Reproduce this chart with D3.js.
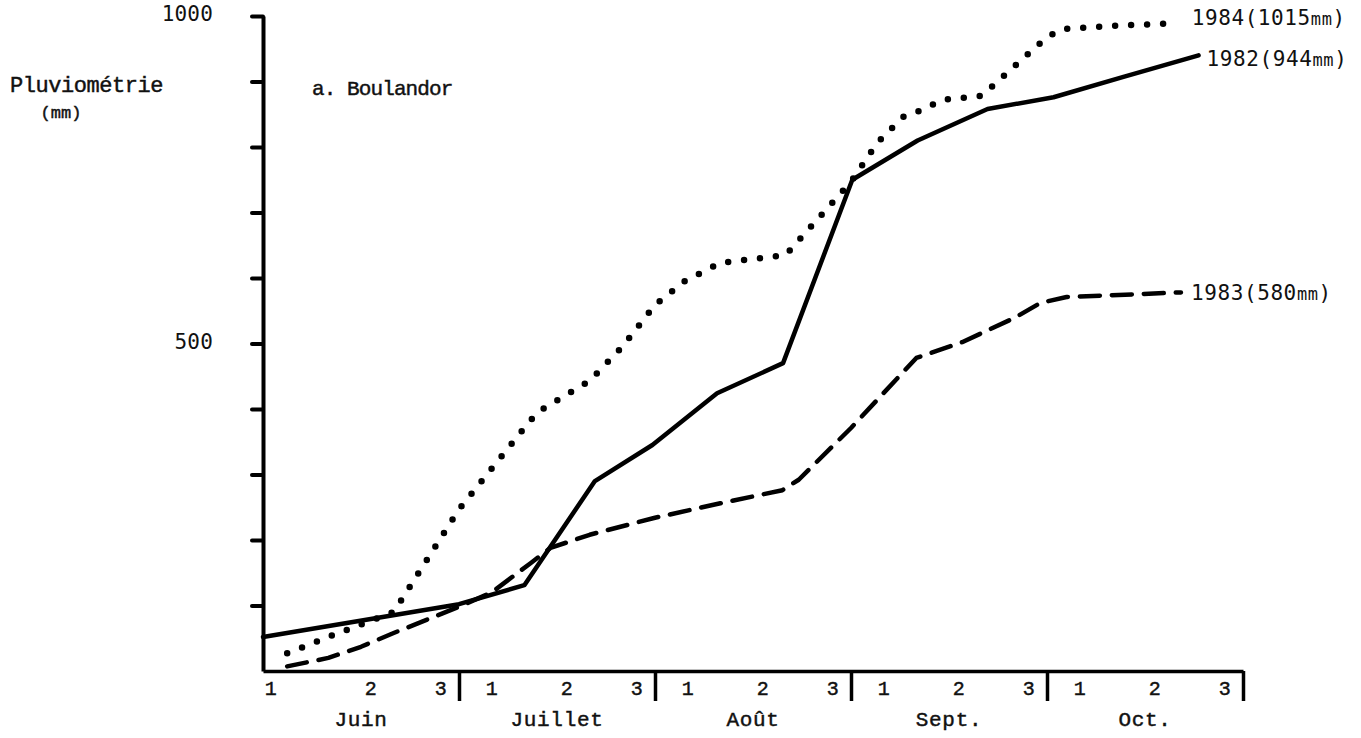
<!DOCTYPE html>
<meta charset="utf-8">
<style>
  body { margin: 0; background: #fff; }
  svg { display: block; }
  .serif { font-family: "Liberation Mono", "Courier New", monospace; fill: #111; stroke: #111; stroke-width: 0.45px; }
  .sans { font-family: "DejaVu Sans Mono", monospace; fill: #111; }
  .axis path, .axis line { stroke: #000; }
  .series { fill: none; stroke: #000; }
</style>
<body>
<svg width="1361" height="738"></svg>
<script src="https://cdn.jsdelivr.net/npm/d3@7"></script>
<script>
// months and decades on the x axis (x unit = one decade, 3 per month)
const months = ["Juin", "Juillet", "Août", "Sept.", "Oct."];
const decades = ["1", "2", "3"];

// y axis ticks (mm), only two of them labelled
const yTicks = [100, 200, 300, 400, 500, 600, 700, 800, 900, 1000];
const yLabelled = [500, 1000];

// cumulative rainfall (position in decades, mm)
const pos1982 = [0, 3, 4, 5.08, 5.96, 6.95, 7.96, 9.02, 10.02, 11.09, 12.1, 13.17, 14.32];
const rain1982 = [52, 102, 131, 290, 345, 424, 470, 750, 810, 858, 876, 907, 940];

const pos1983 = [0.37, 1, 1.5, 2, 3, 3.5, 4.1, 4.4, 5, 6, 7, 7.95, 8.2, 9, 10, 10.7, 11.5, 11.9, 12.3, 14.05];
const rain1983 = [7, 20, 37, 58, 98, 120, 165, 188, 208, 234, 256, 276, 292, 371, 478, 502, 539, 562, 571, 578];

const pos1984 = [0.37, 1, 2, 3, 4, 4.2, 5, 5.5, 6, 6.45, 7, 8, 9, 9.4, 9.8, 10, 10.4, 11, 12, 12.25, 13, 14];
const rain1984 = [27, 52, 90, 247, 371, 395, 443, 495, 559, 595, 623, 635, 747, 806, 846, 853, 872, 878, 968, 980, 985, 989];

const seriesNames = ["1984", "1982", "1983"];
const seriesTotals = ["1015", "944", "580"];

const svg = d3.select("svg");

const x = d3.scaleLinear().domain([0, 15]).range([263, 1243]);
const y = d3.scaleLinear().domain([0, 1000]).range([671, 16]);

// y axis
const yAxis = svg.append("g")
    .attr("class", "axis axis--y")
    .attr("transform", `translate(${x(0)},0)`)
    .call(d3.axisLeft(y)
      .tickValues(yTicks)
      .tickSize(11)
      .tickSizeOuter(0)
      .tickPadding(39)
      .tickFormat(d => yLabelled.includes(d) ? d : ""));
yAxis.select(".domain").attr("stroke-width", 4);
yAxis.selectAll(".tick line").attr("stroke-width", 4).attr("stroke-linecap", "round");
yAxis.selectAll(".tick text")
    .attr("class", "sans")
    .attr("font-size", 21)
    .attr("letter-spacing", 0.2)
    .attr("dy", "0.22em");
yAxis.attr("font-family", null).attr("font-size", null);

// x axis with month separators
const xAxis = svg.append("g")
    .attr("class", "axis axis--x")
    .attr("transform", `translate(0,${y(0)})`)
    .call(d3.axisBottom(x)
      .tickValues(months.map((m, i) => (i + 1) * 3))
      .tickSize(30)
      .tickSizeOuter(0)
      .tickFormat(""));
xAxis.select(".domain").attr("stroke-width", 3.5);
xAxis.selectAll(".tick line").attr("stroke-width", 3.5);

// decade numbers and month names
const decadeOffset = [0.5, 1.65, 2.72];
months.forEach((m, i) => {
  decades.forEach((d, j) => {
    const off = (i === 0 && j === 0) ? 0.12 : decadeOffset[j];
    svg.append("text")
        .attr("class", "serif")
        .attr("x", x(i * 3 + off))
        .attr("y", y(0) + 24)
        .attr("text-anchor", "middle")
        .attr("font-size", 20)
        .text(d);
  });
  svg.append("text")
      .attr("class", "serif")
      .attr("x", x(i * 3 + 1.5))
      .attr("y", y(0) + 55)
      .attr("text-anchor", "middle")
      .attr("font-size", 21)
      .attr("letter-spacing", 0.7)
      .text(m);
});

// series
const line = d3.line().x(d => x(d[0])).y(d => y(d[1]));
const series = [
  { pos: pos1984, rain: rain1984, dash: "0 16", width: 6.5, dx: 14, dy: -6 },
  { pos: pos1982, rain: rain1982, dash: null, width: 4.5, dx: 8, dy: 3 },
  { pos: pos1983, rain: rain1983, dash: "20 12", width: 4.5, dx: 10, dy: 0 }
];

series.forEach((s, i) => {
  const pts = d3.zip(s.pos, s.rain);
  svg.append("path")
      .datum(pts)
      .attr("class", "series")
      .attr("d", line)
      .attr("stroke-width", s.width)
      .attr("stroke-linecap", "round")
      .attr("stroke-linejoin", "round")
      .attr("stroke-dasharray", s.dash);

  const last = pts[pts.length - 1];
  const t = svg.append("text")
      .attr("class", "sans")
      .attr("x", x(last[0]) + s.dx)
      .attr("y", y(last[1]) + s.dy)
      .attr("dy", "0.36em")
      .attr("font-size", 21)
      .attr("letter-spacing", 0.6);
  t.append("tspan").text(`${seriesNames[i]}(${seriesTotals[i]}`);
  t.append("tspan").attr("font-size", 17).text("mm");
  t.append("tspan").text(")");
});

// titles
svg.append("text")
    .attr("class", "serif")
    .attr("x", 10)
    .attr("y", 92)
    .attr("font-size", 22)
    .attr("letter-spacing", -0.45)
    .text("Pluviométrie");
svg.append("text")
    .attr("class", "serif")
    .attr("x", 61)
    .attr("y", 118)
    .attr("text-anchor", "middle")
    .attr("font-size", 17)
    .text("(mm)");
svg.append("text")
    .attr("class", "serif")
    .attr("x", 312)
    .attr("y", 95)
    .attr("font-size", 21)
    .attr("letter-spacing", -0.9)
    .text("a. Boulandor");
</script>
</body>
